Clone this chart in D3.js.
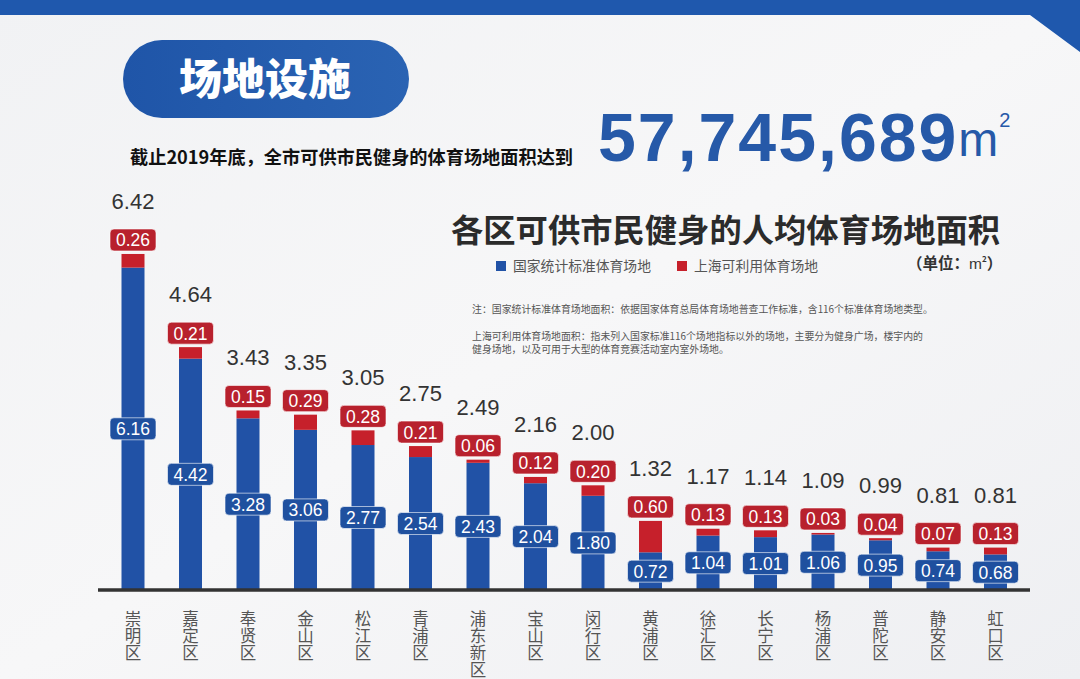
<!DOCTYPE html>
<html><head><meta charset="utf-8">
<script src="https://cdn.jsdelivr.net/npm/d3@7"></script>
<style>html,body{margin:0;padding:0;background:#f3f4f6;}svg{display:block;}</style>
</head><body>
<svg id="c" width="1080" height="679"></svg>
<script>
const districts = ["崇明区","嘉定区","奉贤区","金山区","松江区","青浦区","浦东新区","宝山区","闵行区","黄浦区","徐汇区","长宁区","杨浦区","普陀区","静安区","虹口区"];
const nationalStd = [6.16,4.42,3.28,3.06,2.77,2.54,2.43,2.04,1.80,0.72,1.04,1.01,1.06,0.95,0.74,0.68];
const shanghaiExtra = [0.26,0.21,0.15,0.29,0.28,0.21,0.06,0.12,0.20,0.60,0.13,0.13,0.03,0.04,0.07,0.13];
const totals = [6.42,4.64,3.43,3.35,3.05,2.75,2.49,2.16,2.00,1.32,1.17,1.14,1.09,0.99,0.81,0.81];
const seriesNames = ["国家统计标准体育场地","上海可利用体育场地"];

const BLUE = "#2152a6", RED = "#c6202b", LBL_RED = "#b8212d", LBL_BLUE = "#1f509f";
const CJK = "'Noto Sans CJK SC','Noto Sans',sans-serif";
const LAT = "'Liberation Sans',Arial,sans-serif";

const svg = d3.select("#c");
const defs = svg.append("defs");
const bg = defs.append("linearGradient").attr("id","bg").attr("x1",0).attr("y1",0).attr("x2",1).attr("y2",1);
bg.append("stop").attr("offset",0).attr("stop-color","#f1f2f4");
bg.append("stop").attr("offset",0.5).attr("stop-color","#f7f7f8");
bg.append("stop").attr("offset",1).attr("stop-color","#eeeff2");
const pill = defs.append("linearGradient").attr("id","pill").attr("x1",0).attr("y1",0).attr("x2",1).attr("y2",0);
pill.append("stop").attr("offset",0).attr("stop-color","#1f55a8");
pill.append("stop").attr("offset",1).attr("stop-color","#2a63b3");

svg.append("rect").attr("width",1080).attr("height",679).attr("fill","url(#bg)");
// top band
svg.append("path").attr("d","M0,0 H1080 V52 L1030,15 H0 Z").attr("fill","#1f58ad");

// title pill
svg.append("rect").attr("x",123).attr("y",40).attr("width",286).attr("height",78).attr("rx",39).attr("fill","url(#pill)");
svg.append("text").attr("x",265).attr("y",95).attr("text-anchor","middle").attr("fill","#fff")
  .attr("font-family",CJK).attr("font-weight",900).attr("font-size",43).text("场地设施");

svg.append("text").attr("x",130).attr("y",164).attr("fill","#111").attr("font-family",CJK)
  .attr("font-weight",700).attr("font-size",18.2).text("截止2019年底，全市可供市民健身的体育场地面积达到");
const big = svg.append("text").attr("x",598).attr("y",161).attr("fill","#2659a8").attr("font-family",LAT);
big.append("tspan").attr("font-weight",700).attr("font-size",68).attr("letter-spacing",2).text("57,745,689");
big.append("tspan").attr("font-size",48).attr("dx",0).attr("dy",-5).text("m");
big.append("tspan").attr("font-size",20).attr("dx",1).attr("dy",-29).text("2");

svg.append("text").attr("x",451).attr("y",242).attr("fill","#2b2b2b").attr("font-family",CJK)
  .attr("font-weight",700).attr("font-size",32.3).text("各区可供市民健身的人均体育场地面积");

// legend
const lg = [[496,BLUE,seriesNames[0]],[677,RED,seriesNames[1]]];
lg.forEach(([x,c,t])=>{
  svg.append("rect").attr("x",x).attr("y",261).attr("width",10).attr("height",10).attr("fill",c);
  svg.append("text").attr("x",x+17).attr("y",271).attr("fill","#555").attr("font-family",CJK).attr("font-size",13.8).text(t);
});
const unit = svg.append("text").attr("x",907).attr("y",269).attr("fill","#333").attr("font-family",CJK).attr("font-weight",700).attr("font-size",15.5);
unit.append("tspan").text("（单位：");
unit.append("tspan").attr("font-weight",400).attr("font-family",LAT).text("m");
unit.append("tspan").attr("font-size",8).attr("dy",-7).text("2");
unit.append("tspan").attr("dy",7).text("）");

const notes = ["注：国家统计标准体育场地面积：依据国家体育总局体育场地普查工作标准，含116个标准体育场地类型。",
  "上海可利用体育场地面积：指未列入国家标准116个场地指标以外的场地，主要分为健身广场，楼宇内的",
  "健身场地，以及可用于大型的体育竞赛活动室内室外场地。"];
[313,340,353].forEach((y,i)=>svg.append("text").attr("x",472).attr("y",y).attr("fill","#555")
  .attr("font-family",CJK).attr("font-size",9.9).text(notes[i]));

// scales
const x = d3.scaleBand().domain(districts).range([104.25,1024.25]).paddingInner(0.6).paddingOuter(0.3);
const y = d3.scaleLinear().domain([0,7]).range([590,590-7*52.34]);
const data = districts.map((d,i)=>({d,b:nationalStd[i],r:shanghaiExtra[i],t:totals[i]}));
const bw = x.bandwidth();

const g = svg.append("g");
g.selectAll(".blue").data(data).join("rect").attr("x",d=>x(d.d)).attr("width",bw)
  .attr("y",d=>y(d.b)).attr("height",d=>y(0)-y(d.b)).attr("fill",BLUE);
g.selectAll(".red").data(data).join("rect").attr("x",d=>x(d.d)).attr("width",bw)
  .attr("y",d=>y(d.t)).attr("height",d=>y(d.b)-y(d.t)).attr("fill",RED);

// axis
const ax = svg.append("g").attr("transform","translate(0,590)").call(d3.axisBottom(x).tickSize(0).tickFormat(""));
ax.select(".domain").attr("stroke","#333").attr("stroke-width",3.5).attr("d","M98,0H1030");
ax.selectAll(".tick").append("text").attr("x",0).attr("y",20)
  .attr("fill","#555").attr("font-family",CJK).attr("font-size",16.5)
  .style("writing-mode","vertical-rl").attr("letter-spacing",0.5).attr("text-anchor","start").text(d=>d);

const cx = d=>x(d.d)+bw/2;
function label(cyFn, fill, txtFn){
  const lg2 = g.selectAll(null).data(data).join("g").attr("transform",d=>`translate(${cx(d)},${cyFn(d)})`);
  lg2.append("rect").attr("x",-23).attr("y",-11).attr("width",46).attr("height",22).attr("rx",4)
    .attr("fill",fill).attr("stroke","rgba(255,255,255,0.6)").attr("stroke-width",1);
  lg2.append("text").attr("y",6.5).attr("text-anchor","middle").attr("fill","#fff")
    .attr("font-family",LAT).attr("font-size",17.5).text(txtFn);
}
label(d=>(y(0)+y(d.b))/2,LBL_BLUE,d=>d.b.toFixed(2));
label(d=>y(d.t)-14,LBL_RED,d=>d.r.toFixed(2));
g.selectAll(".tot").data(data).join("text").attr("x",cx).attr("y",d=>y(d.t)-45)
  .attr("text-anchor","middle").attr("fill","#333").attr("font-family",LAT).attr("font-size",22).text(d=>d.t.toFixed(2));
</script>
</body></html>
